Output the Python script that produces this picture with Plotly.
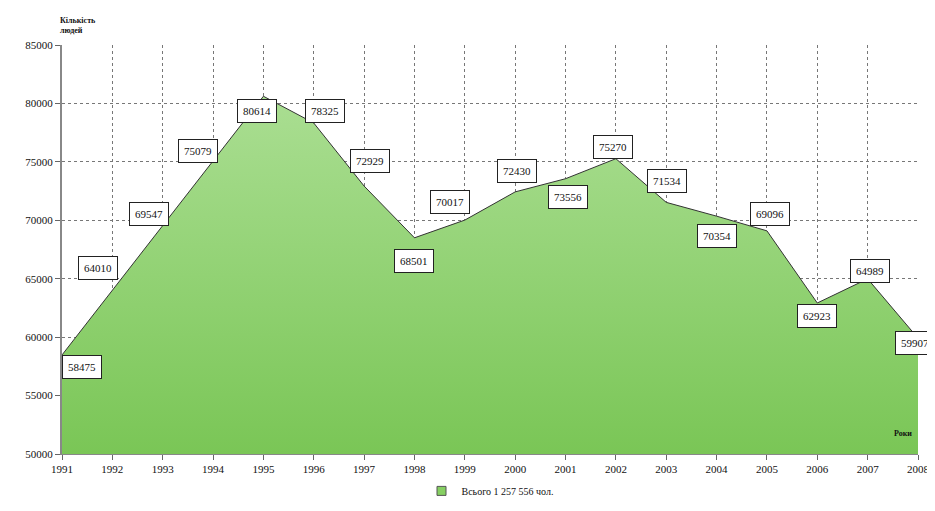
import plotly.graph_objects as go

years = list(range(1991, 2009))
values = [58475, 64010, 69547, 75079, 80614, 78325, 72929, 68501, 70017,
          72430, 73556, 75270, 71534, 70354, 69096, 62923, 64989, 59907]
series_name = "Всього 1 257 556 чол."
y_title = "Кількість<br>людей"
x_title = "Роки"

# label placement (pixel offsets from point: dx right, dy up)
label_offsets = [(20, -12), (-14, 22), (-14, 12), (-15, 10), (-6, -15), (11, 12),
                 (6, 25), (0, -23), (-15, 18), (2, 21), (2, -18), (-3, 12),
                 (1, 21), (0, -20), (3, 17), (0, -13), (2, 8), (-3, -5)]

FONT = "Liberation Serif, Times New Roman, serif"

fig = go.Figure()
fig.add_trace(go.Scatter(
    x=years, y=values, mode="lines", name=series_name, showlegend=False,
    line=dict(color="#333333", width=1),
    fill="tozeroy",
    fillgradient=dict(type="vertical", start=50000, stop=80614,
                      colorscale=[[0, "#7ac656"], [1, "#aade92"]]),
    hoverinfo="skip",
))
# legend entry (square swatch)
fig.add_trace(go.Scatter(
    x=[None], y=[None], mode="markers", name=series_name,
    marker=dict(symbol="square", size=9, color="#86cf62",
                line=dict(color="#555", width=1)),
))

for yr, v, (dx, dy) in zip(years, values, label_offsets):
    fig.add_annotation(x=yr, y=v, text=str(v), showarrow=False,
                       xshift=dx, yshift=dy,
                       font=dict(family=FONT, size=11, color="#111"),
                       bgcolor="white", bordercolor="#222", borderwidth=1,
                       borderpad=5)

fig.add_annotation(xref="paper", yref="paper", x=-0.005, y=1.0, yshift=8,
                   xanchor="left", yanchor="bottom", text="<b>" + y_title + "</b>",
                   showarrow=False, align="left",
                   font=dict(family=FONT, size=8, color="#111"))
fig.add_annotation(xref="paper", yref="paper", x=0.995, y=0.035,
                   xanchor="right", yanchor="bottom", text="<b>" + x_title + "</b>",
                   showarrow=False, font=dict(family=FONT, size=8, color="#111"))

fig.update_layout(
    width=935, height=511,
    margin=dict(l=54, r=25, t=37, b=65, autoexpand=False),
    paper_bgcolor="white", plot_bgcolor="white",
    font=dict(family=FONT, size=11, color="#111"),
    showlegend=True,
    legend=dict(orientation="h", x=0.5, xanchor="center",
                yref="container", y=0.055, yanchor="middle",
                font=dict(family=FONT, size=10), bgcolor="rgba(0,0,0,0)"),
)
fig.update_xaxes(range=[1991, 2008], dtick=1, tick0=1991, automargin=False,
                 showgrid=True, gridcolor="#777", griddash="dot", gridwidth=1,
                 showline=True, linecolor="#888", linewidth=1,
                 ticks="outside", ticklen=5, tickcolor="#666",
                 tickfont=dict(family=FONT, size=11), zeroline=False)
fig.update_yaxes(range=[50000, 85000], dtick=5000, tickformat="d", automargin=False,
                 showgrid=True, gridcolor="#777", griddash="dot", gridwidth=1,
                 showline=True, linecolor="#888", linewidth=2,
                 ticks="outside", ticklen=5, tickcolor="#666",
                 tickfont=dict(family=FONT, size=11), zeroline=False)

fig.write_html("out.html")
